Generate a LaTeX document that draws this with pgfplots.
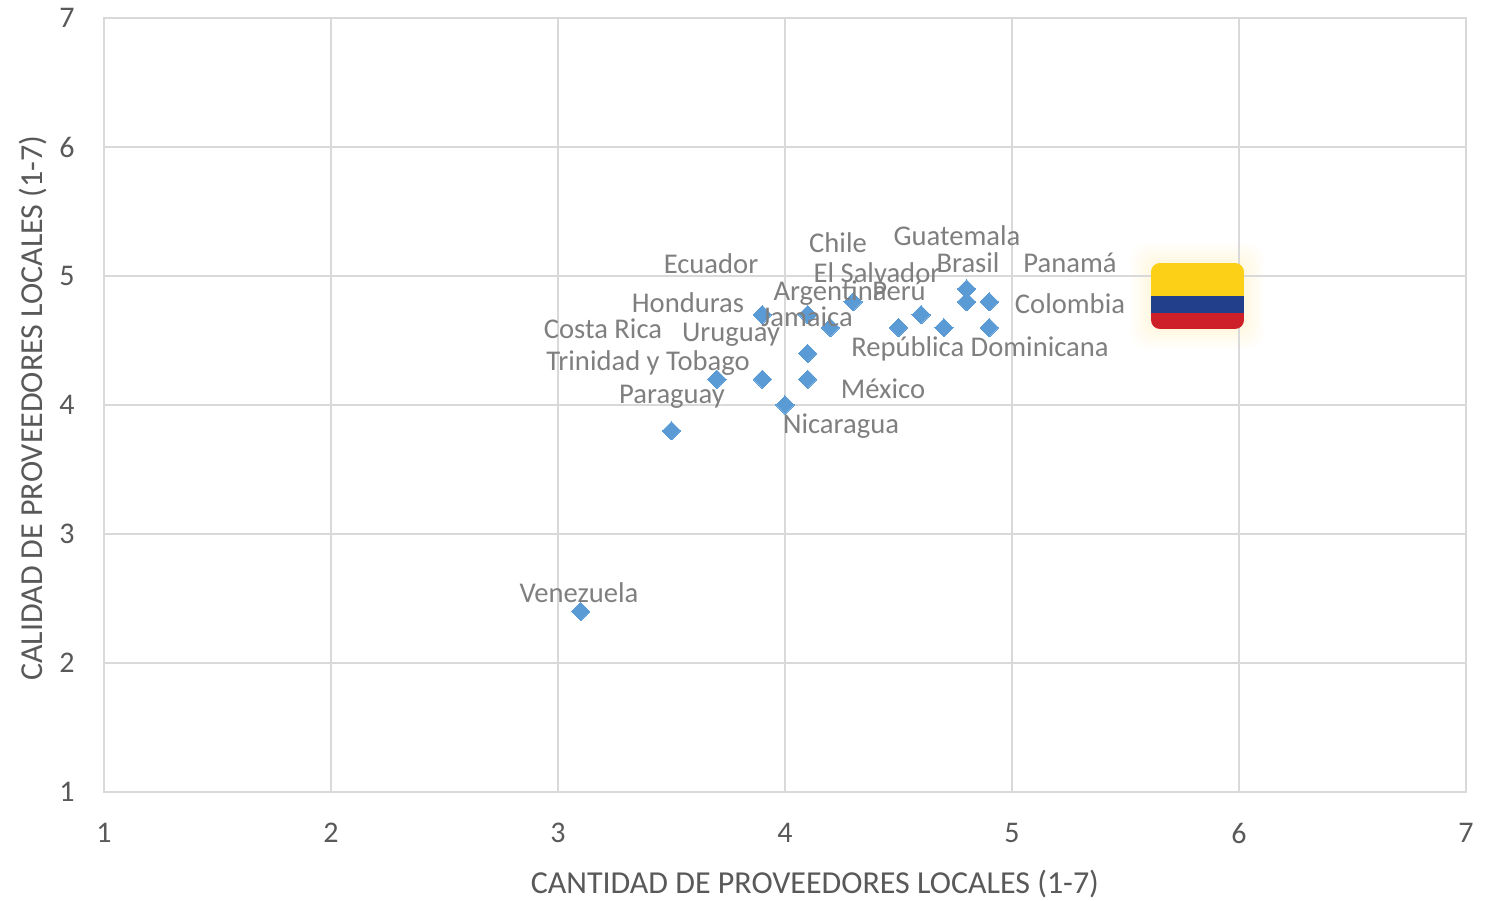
\documentclass[border=0pt]{standalone}
\usepackage{fontspec}
\setmainfont{Carlito}
\usepackage{pgfplots}
\pgfplotsset{compat=1.18}
\definecolor{gridc}{HTML}{D9D9D9}
\definecolor{tickc}{HTML}{595959}
\definecolor{labc}{HTML}{7F7F7F}
\definecolor{mk}{HTML}{5B9BD5}
\definecolor{fy}{HTML}{FBD016}
\definecolor{fb}{HTML}{213F8A}
\definecolor{fr}{HTML}{CE2028}
\definecolor{glow}{HTML}{FFC000}
\newcommand{\lab}[3]{\node[anchor=base,text=labc,font=\fontsize{28.6}{32}\selectfont,inner sep=0pt] at ({#1-104},{792-#2-10}) {#3};}
\begin{document}
\begin{tikzpicture}[x=1pt,y=1pt]
\path[use as bounding box] (-104,-109) rectangle (1387,792);
\foreach \g in {20,18,16,14,12,10,8,6,4,2}{
  \fill[glow,opacity=0.012,rounded corners=16pt] ({1151-104-\g},{792-329-\g}) rectangle ({1244-104+\g},{792-263+\g});
}
\begin{axis}[name=a,at={(0,0)},anchor=south west,scale only axis,width=1362pt,height=774pt,
 xmin=1,xmax=7,ymin=1,ymax=7,xtick={1,...,7},ytick={1,...,7},
 grid=major,grid style={gridc,line width=2pt},axis line style={gridc,line width=2pt},
 tick style={draw=none},
 tick label style={text=tickc,font=\fontsize{30}{34}\selectfont},
 /pgf/number format/assume math mode=true,
 xticklabel style={yshift=-28pt},yticklabel style={xshift=-26pt},
 xlabel={CANTIDAD DE PROVEEDORES LOCALES (1-7)},ylabel={CALIDAD DE PROVEEDORES LOCALES (1-7)},
 label style={text=tickc,font=\fontsize{32}{36}\selectfont},
 xlabel style={at={(axis description cs:0.522,0)},anchor=base,yshift=-102pt},
 ylabel style={at={(axis description cs:0,0.496)},anchor=base,yshift=61pt},
 clip=false]
\addplot[only marks,mark=square*,mark size=6.5pt,mark options={rotate=45,fill=mk,draw=mk,line width=0pt}] table {
x y
3.1 2.4
3.5 3.8
3.7 4.2
3.9 4.2
3.9 4.7
4.0 4.0
4.1 4.7
4.1 4.4
4.1 4.2
4.2 4.6
4.3 4.8
4.5 4.6
4.6 4.7
4.7 4.6
4.8 4.9
4.8 4.8
4.9 4.8
4.9 4.6
};
\end{axis}
\begin{scope}
\clip[rounded corners=9pt] ({1151-104},{792-329}) rectangle ({1244-104},{792-263});
\fill[fy] ({1151-104},{792-296}) rectangle ({1244-104},{792-263});
\fill[fb] ({1151-104},{792-313}) rectangle ({1244-104},{792-296});
\fill[fr] ({1151-104},{792-329}) rectangle ({1244-104},{792-313});
\end{scope}
\lab{838}{243}{Chile}
\lab{957}{236}{Guatemala}
\lab{711}{264}{Ecuador}
\lab{968}{263}{Brasil}
\lab{1070}{263}{Panamá}
\lab{877}{273}{El Salvador}
\lab{830}{291}{Argentina}
\lab{899}{291}{Perú}
\lab{688}{303}{Honduras}
\lab{1070}{304}{Colombia}
\lab{807}{317}{Jamaica}
\lab{603}{329}{Costa Rica}
\lab{731}{332}{Uruguay}
\lab{980}{347}{República Dominicana}
\lab{648}{361}{Trinidad y Tobago}
\lab{883}{389}{México}
\lab{672}{394}{Paraguay}
\lab{841}{424}{Nicaragua}
\lab{579}{593}{Venezuela}
\end{tikzpicture}
\end{document}
